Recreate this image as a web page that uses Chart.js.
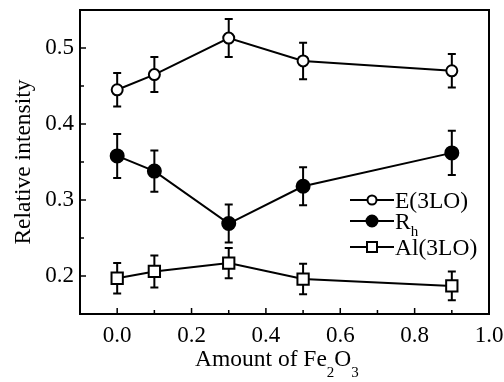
<!DOCTYPE html>
<html><head><meta charset="utf-8">
<script src="https://cdn.jsdelivr.net/npm/chart.js@4/dist/chart.umd.min.js"></script>
<style>html,body{margin:0;padding:0;background:#fff}#w{width:504px;height:382px}
#pre{position:absolute;left:-1000px;top:0;font-family:"Liberation Serif";font-size:22px}</style>
</head><body><div id="pre">Relative 0.5 Fe</div><div id="w"><canvas id="c"></canvas></div>
<script>
const xValues=[0,0.1,0.3,0.5,0.9];
const e3lo=[0.445,0.465,0.513,0.483,0.470];
const e3loErr=[0.022,0.023,0.025,0.024,0.022];
const rh=[0.358,0.338,0.269,0.318,0.362];
const rhErr=[0.029,0.027,0.025,0.025,0.029];
const al3lo=[0.197,0.206,0.217,0.196,0.187];
const al3loErr=[0.020,0.021,0.020,0.020,0.019];
const xTicks=[0,0.2,0.4,0.6,0.8,1.0];
const yTicks=[0.2,0.3,0.4,0.5];
const seriesNames=['E(3LO)','R','Al(3LO)'];
const xTitle=['Amount of Fe','2','O','3'];
const yTitle='Relative intensity';

const FONT='"Liberation Serif", serif';
const pts=(ys,es)=>xValues.map((x,i)=>({x:x,y:ys[i],e:es[i]}));

const styles=[
  {pointStyle:'circle',pointRadius:5.5,pointBackgroundColor:'#fff'},
  {pointStyle:'circle',pointRadius:6.5,pointBackgroundColor:'#000'},
  {pointStyle:'rect',pointRadius:8,pointBackgroundColor:'#fff'}
];
const datas=[pts(e3lo,e3loErr),pts(rh,rhErr),pts(al3lo,al3loErr)];

function noPad(s){s.paddingLeft=0;s.paddingRight=0;s.paddingTop=0;s.paddingBottom=0;}

const plugin={
  id:'deco',
  beforeDatasetsDraw(chart){
    const ctx=chart.ctx, xs=chart.scales.x, ys=chart.scales.y;
    ctx.save();ctx.strokeStyle='#000';ctx.lineWidth=2;
    chart.data.datasets.forEach(ds=>{
      ds.data.forEach(p=>{
        const px=xs.getPixelForValue(p.x);
        const t=ys.getPixelForValue(p.y+p.e), b=ys.getPixelForValue(p.y-p.e);
        ctx.beginPath();ctx.moveTo(px,t);ctx.lineTo(px,b);
        ctx.moveTo(px-4,t);ctx.lineTo(px+4,t);
        ctx.moveTo(px-4,b);ctx.lineTo(px+4,b);ctx.stroke();
      });
    });
    ctx.restore();
  },
  afterDraw(chart){
    const ctx=chart.ctx, a=chart.chartArea, xs=chart.scales.x, ys=chart.scales.y;
    ctx.save();
    ctx.strokeStyle='#000';ctx.lineWidth=2;
    ctx.strokeRect(a.left,a.top,a.right-a.left,a.bottom-a.top);
    ctx.lineWidth=1.5;
    ctx.beginPath();
    for(let k=0;k<=10;k++){
      const px=xs.getPixelForValue(k/10);
      ctx.moveTo(px,a.bottom);ctx.lineTo(px,a.bottom-(k%2===0?6:4));
    }
    for(let k=3;k<=11;k++){
      const py=ys.getPixelForValue(k*0.05);
      ctx.moveTo(a.left,py);ctx.lineTo(a.left+(k%2===0?6:4),py);
    }
    ctx.stroke();
    // legend
    const ly=[200,221,247], lx0=350, lx1=394;
    ctx.textBaseline='alphabetic';ctx.textAlign='left';
    chart.data.datasets.forEach((ds,i)=>{
      ctx.lineWidth=2;ctx.strokeStyle='#000';
      ctx.beginPath();ctx.moveTo(lx0,ly[i]);ctx.lineTo(lx1,ly[i]);ctx.stroke();
      const mx=(lx0+lx1)/2;
      ctx.beginPath();
      if(ds.pointStyle==='rect'){ctx.rect(mx-5,ly[i]-5,10,10);}
      else{ctx.arc(mx,ly[i],i===1?5.5:4.5,0,Math.PI*2);}
      ctx.fillStyle=ds.pointBackgroundColor;ctx.fill();ctx.stroke();
      ctx.fillStyle='#000';
      ctx.font='23.5px '+FONT;
      ctx.fillText(ds.label,lx1+1,ly[i]+8);
      if(i===1){
        const w=ctx.measureText(ds.label).width;
        ctx.font='15px '+FONT;
        ctx.fillText('h',lx1+1+w,ly[i]+15);
      }
    });
    // x title
    const mainF='23.5px '+FONT, subF='15px '+FONT;
    const parts=[[xTitle[0],0],[xTitle[1],1],[xTitle[2],0],[xTitle[3],1]];
    let x=195;
    parts.forEach(p=>{ctx.font=p[1]?subF:mainF;ctx.fillText(p[0],x,p[1]?377:366);x+=ctx.measureText(p[0]).width;});
    // y title
    ctx.translate(30,162);ctx.rotate(-Math.PI/2);
    ctx.font='23.5px '+FONT;ctx.textAlign='center';
    ctx.fillText(yTitle,0,0);
    ctx.restore();
  }
};

function build(){
new Chart(document.getElementById('c'),{
  type:'line',
  data:{datasets:datas.map((d,i)=>Object.assign({
    label:seriesNames[i],data:d,borderColor:'#000',borderWidth:2,
    pointBorderColor:'#000',pointBorderWidth:2,tension:0
  },styles[i]))},
  options:{
    responsive:true,maintainAspectRatio:false,devicePixelRatio:1,animation:false,
    layout:{padding:{left:0,right:15,top:8,bottom:0}},
    plugins:{legend:{display:false},tooltip:{enabled:false}},
    scales:{
      x:{type:'linear',min:-0.1,max:1.0,
        afterBuildTicks(s){s.ticks=xTicks.map(v=>({value:v}));},
        afterFit(s){s.height=68;noPad(s);},
        grid:{display:false,drawTicks:false},border:{display:false},
        ticks:{padding:8,color:'#000',font:{family:FONT,size:23},callback:v=>v.toFixed(1),maxRotation:0}},
      y:{type:'linear',min:0.15,max:0.55,
        afterBuildTicks(s){s.ticks=yTicks.map(v=>({value:v}));},
        afterFit(s){s.width=80;noPad(s);},
        grid:{display:false,drawTicks:false},border:{display:false},
        ticks:{padding:6,color:'#000',font:{family:FONT,size:23},callback:v=>v.toFixed(1)}}
    }
  },
  plugins:[plugin]
});
}
if(document.fonts&&document.fonts.load){
  document.fonts.load('22px "Liberation Serif"').then(build,build);
}else{build();}
</script></body></html>
